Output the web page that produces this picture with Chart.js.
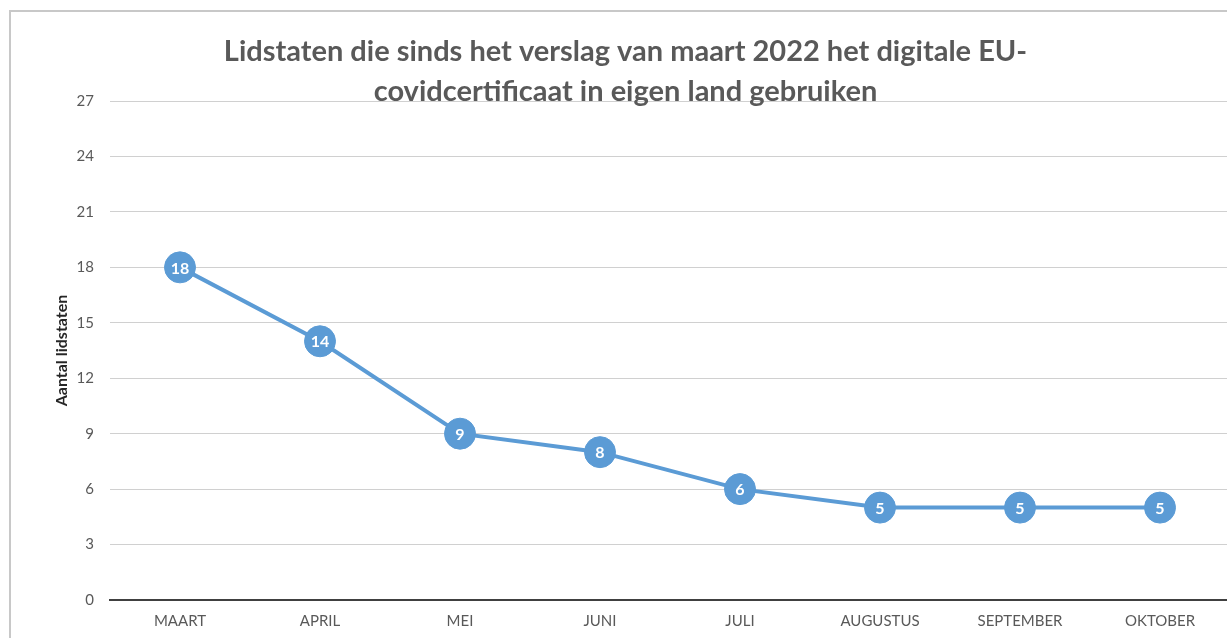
<!DOCTYPE html>
<html><head><meta charset="utf-8">
<script src="https://cdn.jsdelivr.net/npm/chart.js@4/dist/chart.umd.min.js"></script>
<style>
html,body{margin:0;padding:0;background:#fff;overflow:hidden;width:1227px;height:638px;}
#card{position:absolute;left:9px;top:10px;width:1260px;height:660px;border:2px solid #c8c8c8;box-sizing:border-box;background:#fff;}
#wrap{position:absolute;left:0;top:0;width:1240px;height:640px;}
</style></head>
<body>
<div id="card"><div id="wrap"><canvas id="c" width="1240" height="640"></canvas></div></div>
<script>
const categories = ['MAART','APRIL','MEI','JUNI','JULI','AUGUSTUS','SEPTEMBER','OKTOBER'];
const values = [18, 14, 9, 8, 6, 5, 5, 5];
const titleLines = ['Lidstaten die sinds het verslag van maart 2022 het digitale EU-','covidcertificaat in eigen land gebruiken'];
const yAxisTitle = 'Aantal lidstaten';
const yMin = 0, yMax = 27, yStep = 3;

const FONT = 'Lato, "Open Sans", sans-serif';
const BLUE = '#5B9BD5';

const labelPlugin = {
  id: 'pointLabels',
  afterDatasetsDraw(chart) {
    const ctx = chart.ctx;
    const meta = chart.getDatasetMeta(0);
    ctx.save();
    ctx.fillStyle = '#ffffff';
    ctx.font = 'bold 16px ' + FONT;
    ctx.textAlign = 'center';
    ctx.textBaseline = 'middle';
    meta.data.forEach((pt, i) => {
      ctx.fillText(String(chart.data.datasets[0].data[i]), pt.x, pt.y + 1);
    });
    ctx.restore();
  }
};

new Chart(document.getElementById('c'), {
  type: 'line',
  data: {
    labels: categories,
    datasets: [{
      data: values,
      borderColor: BLUE,
      backgroundColor: BLUE,
      borderWidth: 4,
      pointRadius: 15.5,
      pointHoverRadius: 15.5,
      pointBackgroundColor: BLUE,
      pointBorderColor: BLUE,
      pointBorderWidth: 1,
      tension: 0,
      clip: false
    }]
  },
  options: {
    responsive: false,
    animation: false,
    events: [],
    layout: { padding: { left: 10, right: 21, top: 0, bottom: 12 } },
    plugins: {
      legend: { display: false },
      tooltip: { enabled: false },
      title: {
        display: true,
        text: titleLines,
        color: '#595959',
        font: { family: FONT, size: 29, weight: 'bold', lineHeight: 1.38 },
        padding: { top: 20, bottom: -11 }
      }
    },
    scales: {
      x: {
        offset: true,
        grid: { display: false, drawTicks: false },
        border: { display: true, color: '#404040', width: 2 },
        ticks: { color: '#595959', font: { family: FONT, size: 15 }, padding: 12, maxRotation: 0, autoSkip: false },
        afterFit(scale) { scale.height = 40; }
      },
      y: {
        min: yMin, max: yMax,
        grid: { color: '#d0d0d0', lineWidth: 1, drawTicks: false },
        border: { display: false },
        ticks: { stepSize: yStep, color: '#595959', font: { family: FONT, size: 15 }, padding: 16 },
        title: { display: true, text: yAxisTitle, color: '#262626', font: { family: FONT, size: 16, weight: 'bold' }, padding: { top: 31, bottom: 0 } },
        afterFit(scale) { scale.width = 89; }
      }
    }
  },
  plugins: [labelPlugin]
});
</script>
</body></html>
